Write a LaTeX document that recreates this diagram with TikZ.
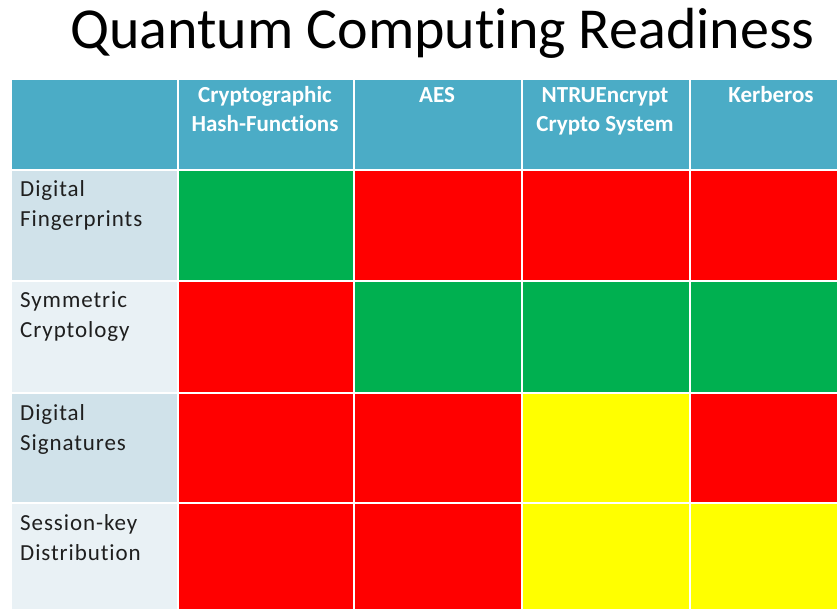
\documentclass[tikz,border=0pt]{standalone}
\usepackage{fontspec}
\setmainfont[Ligatures=NoCommon]{Carlito}
\newfontfamily\lblfont[Ligatures=NoCommon,LetterSpace=4]{Carlito}
\definecolor{hdr}{HTML}{4BACC6}
\definecolor{lbldark}{HTML}{D0E2EA}
\definecolor{lbllight}{HTML}{E9F1F5}
\definecolor{okgreen}{HTML}{00B050}
\definecolor{badred}{HTML}{FF0000}
\definecolor{midyellow}{HTML}{FFFF00}
\definecolor{lbltext}{HTML}{1F1F1F}
\begin{document}
\begin{tikzpicture}[x=1pt,y=-1pt,
  cell/.style={draw=white, line width=2.2pt, inner sep=0pt, anchor=north west},
  hdrtext/.style={anchor=base, inner sep=0pt, text=white, font=\fontsize{23}{29}\selectfont\bfseries},
  lbl/.style={anchor=base west, inner sep=0pt, text=lbltext, font=\lblfont\fontsize{23}{30}\selectfont}]
\useasboundingbox (0,0) rectangle (837,609);
\clip (0,0) rectangle (837,609);
% title
\node[anchor=base west, inner sep=0pt, font=\fontsize{58}{70}\selectfont] (title) at (70,49) {Quantum Computing Readiness};
% header row
\node[cell, fill=hdr, minimum width=167pt, minimum height=91pt] (h0) at (10,78) {};
\node[cell, fill=hdr, minimum width=176pt, minimum height=91pt] (h1) at (177,78) {};
\node[cell, fill=hdr, minimum width=168pt, minimum height=91pt] (h2) at (353,78) {};
\node[cell, fill=hdr, minimum width=168pt, minimum height=91pt] (h3) at (521,78) {};
\node[cell, fill=hdr, minimum width=168pt, minimum height=91pt] (h4) at (689,78) {};
% row label cells
\node[cell, fill=lbldark, minimum width=167pt, minimum height=111pt] (l1) at (10,169) {};
\node[cell, fill=lbllight, minimum width=167pt, minimum height=112pt] (l2) at (10,280) {};
\node[cell, fill=lbldark, minimum width=167pt, minimum height=110pt] (l3) at (10,392) {};
\node[cell, fill=lbllight, minimum width=167pt, minimum height=112pt] (l4) at (10,502) {};
% row 1
\node[cell, fill=okgreen, minimum width=176pt, minimum height=111pt] (c11) at (177,169) {};
\node[cell, fill=badred, minimum width=168pt, minimum height=111pt] (c12) at (353,169) {};
\node[cell, fill=badred, minimum width=168pt, minimum height=111pt] (c13) at (521,169) {};
\node[cell, fill=badred, minimum width=168pt, minimum height=111pt] (c14) at (689,169) {};
% row 2
\node[cell, fill=badred, minimum width=176pt, minimum height=112pt] (c21) at (177,280) {};
\node[cell, fill=okgreen, minimum width=168pt, minimum height=112pt] (c22) at (353,280) {};
\node[cell, fill=okgreen, minimum width=168pt, minimum height=112pt] (c23) at (521,280) {};
\node[cell, fill=okgreen, minimum width=168pt, minimum height=112pt] (c24) at (689,280) {};
% row 3
\node[cell, fill=badred, minimum width=176pt, minimum height=110pt] (c31) at (177,392) {};
\node[cell, fill=badred, minimum width=168pt, minimum height=110pt] (c32) at (353,392) {};
\node[cell, fill=midyellow, minimum width=168pt, minimum height=110pt] (c33) at (521,392) {};
\node[cell, fill=badred, minimum width=168pt, minimum height=110pt] (c34) at (689,392) {};
% row 4
\node[cell, fill=badred, minimum width=176pt, minimum height=112pt] (c41) at (177,502) {};
\node[cell, fill=badred, minimum width=168pt, minimum height=112pt] (c42) at (353,502) {};
\node[cell, fill=midyellow, minimum width=168pt, minimum height=112pt] (c43) at (521,502) {};
\node[cell, fill=midyellow, minimum width=168pt, minimum height=112pt] (c44) at (689,502) {};
% header texts
\node[hdrtext] (t1) at (265,103) {\begin{tabular}[t]{@{}c@{}}Cryptographic\\Hash-Functions\end{tabular}};
\node[hdrtext] (t2) at (437,103) {AES};
\node[hdrtext] (t3) at (605,103) {\begin{tabular}[t]{@{}c@{}}NTRUEncrypt\\Crypto System\end{tabular}};
\node[hdrtext] (t4) at (771,103) {Kerberos};
% row label texts
\node[lbl] (r1) at (20,197) {\begin{tabular}[t]{@{}l@{}}Digital\\Fingerprints\end{tabular}};
\node[lbl] (r2) at (20,308) {\begin{tabular}[t]{@{}l@{}}Symmetric\\Cryptology\end{tabular}};
\node[lbl] (r3) at (20,420) {\begin{tabular}[t]{@{}l@{}}Digital\\Signatures\end{tabular}};
\node[lbl] (r4) at (20,530) {\begin{tabular}[t]{@{}l@{}}Session-key\\Distribution\end{tabular}};
\end{tikzpicture}
\end{document}
